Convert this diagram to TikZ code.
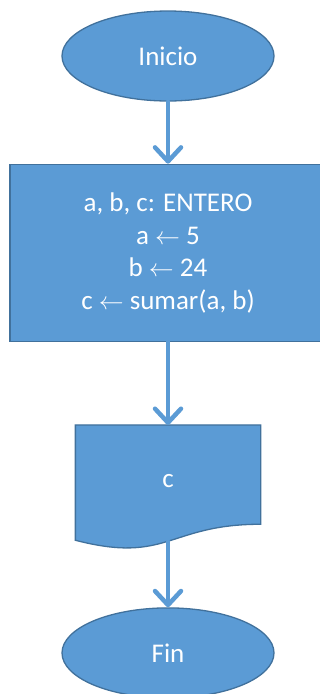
\documentclass[tikz,border=0pt]{standalone}
\usepackage{fontspec}
\setmainfont{Carlito}
\usetikzlibrary{positioning,shapes.geometric,arrows.meta,backgrounds}
\definecolor{boxblue}{HTML}{5B9BD5}
\definecolor{edgeblue}{HTML}{41719C}

\begin{document}
\begin{tikzpicture}[node distance=62pt,
  every node/.style = {fill=boxblue, draw=edgeblue, line width=1.3pt,
    text=white, align=center, inner sep=0pt,
    font=\fontsize{27}{32.5}\selectfont}]
    \tikzstyle{term}=[ellipse, minimum width=212pt, minimum height=90pt]
    \tikzstyle{proc}=[rectangle, minimum width=316pt, minimum height=177pt]
    \tikzstyle{docshape}=[rectangle, draw=none, fill=none,
      minimum width=184pt, minimum height=110pt]
    \tikzstyle{flow}=[boxblue, line width=4.5pt, line cap=round,
      -{Straight Barb[round, length=14pt, width=26pt]}]
  \useasboundingbox (0,0) rectangle (320pt,-694pt);
  \node [term] (inicio) at (168pt,-56pt) {Inicio};
  \node [proc, below=of inicio] (calc)
    {a, b, c: ENTERO\\ a $\leftarrow$ 5\\ b $\leftarrow$ 24\\ c $\leftarrow$ sumar(a, b)};
  \node [docshape, below=83pt of calc] (salida) {c};
  \node [term, below=71pt of salida] (fin) {Fin};
  % document symbol with wavy bottom
  \begin{scope}[on background layer]
    \draw [fill=boxblue, draw=edgeblue, line width=1.3pt]
      (salida.north west) -- (salida.north east)
      -- ([yshift=12pt]salida.south east)
      .. controls ([yshift=12pt]salida.south) and ([yshift=-28pt]salida.south)
      .. ([yshift=-4pt]salida.south west) -- cycle;
  \end{scope}
  \draw [flow] (inicio) -- (calc);
  \draw [flow] (calc) -- (salida);
  \draw [flow] ([yshift=-5pt]salida.south) -- (fin);
\end{tikzpicture}
\end{document}
